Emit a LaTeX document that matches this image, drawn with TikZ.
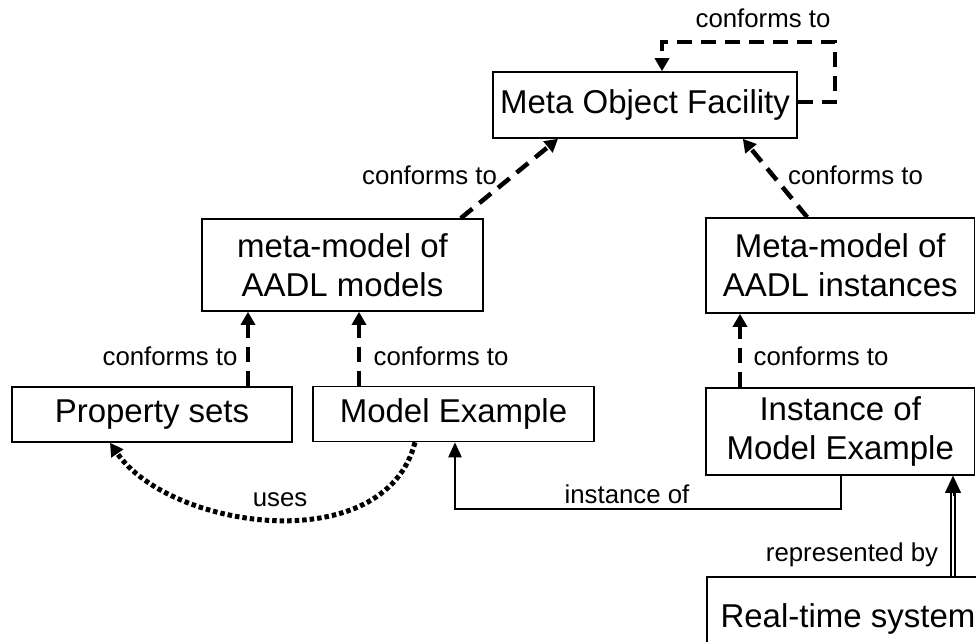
\documentclass[tikz,border=0pt]{standalone}
\usepackage{fontspec}
\setmainfont{Liberation Sans}
\usetikzlibrary{arrows.meta,calc}
\begin{document}
\begin{tikzpicture}[x=1pt,y=-1pt,
  box/.style={draw,line width=1.6pt,inner sep=0pt,align=center,
    font=\fontsize{33}{39}\selectfont},
  lbl/.style={font=\fontsize{25.8}{30}\selectfont,inner sep=0pt},
  conf/.style={line width=4.5pt,dash pattern=on 15pt off 9pt,
    -{Triangle[width=14pt,length=13pt]}},
  solidarr/.style={line width=2.4pt,-{Triangle[width=13pt,length=15pt]}},
  usesarr/.style={line width=5pt,dash pattern=on 4.5pt off 3pt,
    -{Triangle[width=14pt,length=13pt]}}]
\useasboundingbox (0,0) rectangle (976,641);
\clip (0,0) rectangle (976,641);

\node[box,minimum width=304pt,minimum height=66pt] (mof) at (645,105) {Meta Object Facility};
\node[box,minimum width=281pt,minimum height=92pt] (mm) at (342.5,265) {meta-model of\\AADL models};
\node[box,minimum width=268.5pt,minimum height=95pt] (mi) at (840.25,265.5) {Meta-model of\\AADL instances};
\node[box,minimum width=280pt,minimum height=55pt] (ps) at (152,414.5) {Property sets};
\node[box,minimum width=281pt,minimum height=55pt] (me) at (453.5,414) {Model Example};
\node[box,minimum width=268.5pt,minimum height=87pt] (inst) at (840.25,431.5) {Instance of\\Model Example};
\node[box,minimum width=282pt,minimum height=83pt] (rt) at (848,618.5) {Real-time system};

% self loop on MOF
\draw[conf] ([yshift=3pt]mof.east) -- ++(37,0) -- ++(0,-60) -| ([xshift=17pt]mof.north);
\node[lbl] (l0) at (763,18) {conforms to};

% meta-models to MOF
\draw[conf] ([xshift=-23pt]mm.north east) -- ([xshift=-87pt]mof.south);
\node[lbl] (l1) at (429.5,175) {conforms to};
\draw[conf] ([xshift=102pt]mi.north west) -- ([xshift=-55pt]mof.south east);
\node[lbl] (l2) at (855.5,175) {conforms to};

% models to meta-model
\draw[conf] ([xshift=96pt]ps.north) -- ([xshift=-94.5pt]mm.south);
\node[lbl] (l3) at (170,356) {conforms to};
\draw[conf] ([xshift=-94.5pt]me.north) -- ([xshift=16.5pt]mm.south);
\node[lbl] (l4) at (441,356) {conforms to};
\draw[conf] ([xshift=-100.25pt]inst.north) -- ([xshift=-100.25pt]mi.south);
\node[lbl] (l5) at (821,356) {conforms to};

% instance of
\draw[solidarr] ([xshift=0.75pt]inst.south) -- ++(0,33) -| ([xshift=1.5pt]me.south);
\node[lbl] (l6) at (627,494) {instance of};

% uses
\draw[usesarr] ([xshift=-38.5pt]me.south) .. controls (385,560) and (170,530) .. ([xshift=-42pt]ps.south);
\node[lbl] (l7) at (280,500) {uses};

% represented by
\draw[line width=1.8pt,double distance=2.2pt,shorten >=15pt] ([xshift=105pt]rt.north) -- ([xshift=112.75pt]inst.south);
\draw[line width=0.1pt,-{Triangle[width=16pt,length=17pt]}] ([xshift=112.75pt,yshift=-20pt]inst.south) -- ([xshift=112.75pt]inst.south);
\node[lbl] (l8) at (852,555) {represented by};
\end{tikzpicture}
\end{document}
